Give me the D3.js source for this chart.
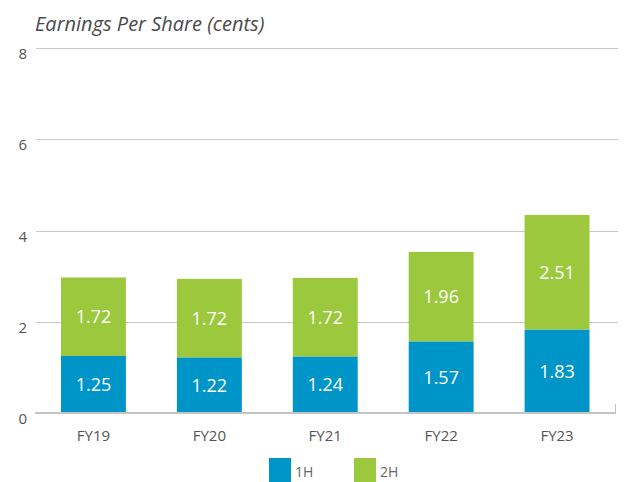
<!DOCTYPE html>
<html>
<head>
<meta charset="utf-8">
<script src="https://cdn.jsdelivr.net/npm/d3@7"></script>
<style>
  body { margin: 0; background: #fff; }
  text { font-family: "Open Sans", "Noto Sans", sans-serif; }
  .title { font-style: italic; font-size: 20px; fill: #4a4a4a; }
  .tick-y { font-size: 15px; fill: #555; }
  .tick-x { font-size: 15px; fill: #555; }
  .val { font-size: 18px; fill: #fff; }
  .leg { font-size: 14px; fill: #666; }
</style>
</head>
<body>
<div id="chart"></div>
<script>
// data
var years = ["FY19", "FY20", "FY21", "FY22", "FY23"];
var firstHalf = [1.25, 1.22, 1.24, 1.57, 1.83];
var secondHalf = [1.72, 1.72, 1.72, 1.96, 2.51];
var yTicks = [0, 2, 4, 6, 8];
var seriesNames = ["1H", "2H"];
var colours = ["#0095c8", "#9bc83c"];

var width = 624, height = 482;
var margin = {top: 48, right: 9, bottom: 69, left: 35.5};

var svg = d3.select("#chart")
  .append("svg")
    .attr("width", width)
    .attr("height", height);

var x = d3.scaleBand()
  .domain(years)
  .range([margin.left, width - margin.right])
  .paddingInner(0.44)
  .paddingOuter(0.22);

var y = d3.scaleLinear()
  .domain([0, 8])
  .range([height - margin.bottom, margin.top]);

// title
svg.append("text")
  .classed("title", true)
  .attr("x", 35)
  .attr("y", 31)
  .text("Earnings Per Share (cents)");

// grid lines
svg.append("g")
  .selectAll("line")
  .data(yTicks.filter(function(d){ return d > 0; }))
  .enter()
  .append("line")
    .attr("x1", 36)
    .attr("x2", 618)
    .attr("y1", function(d){ return Math.round(y(d)) + 0.5; })
    .attr("y2", function(d){ return Math.round(y(d)) + 0.5; })
    .style("stroke", "#c8c8c8")
    .style("stroke-width", 1);

// y labels
svg.append("g")
  .selectAll("text")
  .data(yTicks)
  .enter()
  .append("text")
    .classed("tick-y", true)
    .attr("x", 27)
    .attr("y", function(d){ return y(d) + 11; })
    .attr("text-anchor", "end")
    .text(function(d){ return d; });

// stack
var stacked = years.map(function(yr, i){
  return {year: yr, parts: [
    {y0: 0, y1: firstHalf[i], v: firstHalf[i], s: 0},
    {y0: firstHalf[i], y1: firstHalf[i] + secondHalf[i], v: secondHalf[i], s: 1}
  ]};
});

var groups = svg.append("g")
  .selectAll("g")
  .data(stacked)
  .enter()
  .append("g");

groups.selectAll("rect")
  .data(function(d){ return d.parts.map(function(p){ p.year = d.year; return p; }); })
  .enter()
  .append("rect")
    .attr("x", function(d){ return x(d.year); })
    .attr("width", x.bandwidth())
    .attr("y", function(d){ return y(d.y1); })
    .attr("height", function(d){ return y(d.y0) - y(d.y1); })
    .style("fill", function(d){ return colours[d.s]; });

groups.selectAll("text")
  .data(function(d){ return d.parts; })
  .enter()
  .append("text")
    .classed("val", true)
    .attr("x", function(d){ return x(d.year) + x.bandwidth() / 2; })
    .attr("y", function(d){ return (y(d.y0) + y(d.y1)) / 2 + 6.5; })
    .attr("text-anchor", "middle")
    .text(function(d){ return d.v.toFixed(2); });

// baseline
var base = svg.append("g");
base.append("line")
  .attr("x1", 35).attr("x2", 616)
  .attr("y1", y(0)).attr("y2", y(0))
  .style("stroke", "#c4c4c4")
  .style("stroke-width", 2);
base.append("line")
  .attr("x1", 615.5).attr("x2", 615.5)
  .attr("y1", y(0) - 9).attr("y2", y(0))
  .style("stroke", "#c4c4c4")
  .style("stroke-width", 1);

// x labels
svg.append("g")
  .selectAll("text")
  .data(years)
  .enter()
  .append("text")
    .classed("tick-x", true)
    .attr("x", function(d){ return x(d) + x.bandwidth() / 2; })
    .attr("y", y(0) + 28)
    .attr("text-anchor", "middle")
    .text(function(d){ return d; });

// legend
var legX = [269, 354];
var legend = svg.append("g")
  .selectAll("g")
  .data(seriesNames)
  .enter()
  .append("g")
    .attr("transform", function(d, i){ return "translate(" + legX[i] + ",458)"; });

legend.append("rect")
  .attr("width", 22)
  .attr("height", 26)
  .style("fill", function(d, i){ return colours[i]; });

legend.append("text")
  .classed("leg", true)
  .attr("x", 26)
  .attr("y", 19)
  .text(function(d){ return d; });
</script>
</body>
</html>
